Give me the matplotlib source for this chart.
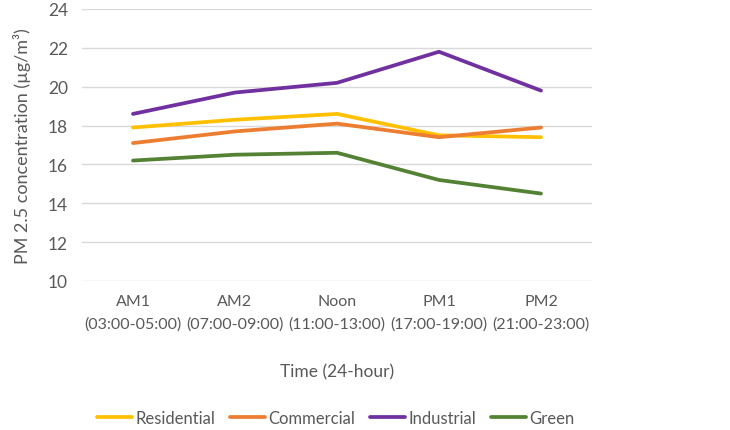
import matplotlib.pyplot as plt

# dados
periodos = ['AM1\n(03:00-05:00)', 'AM2\n(07:00-09:00)', 'Noon\n(11:00-13:00)',
            'PM1\n(17:00-19:00)', 'PM2\n(21:00-23:00)']
residential = [17.9, 18.3, 18.6, 17.5, 17.4]
commercial = [17.1, 17.7, 18.1, 17.4, 17.9]
industrial = [18.6, 19.7, 20.2, 21.8, 19.8]
green = [16.2, 16.5, 16.6, 15.2, 14.5]

plt.rcParams['font.family'] = ['Lato', 'DejaVu Sans']
cinza = '#595959'

fig = plt.figure(figsize=(7.3, 4.31), dpi=100)
ax = fig.add_axes([82 / 730, 1 - 282 / 431, 510 / 730, 272 / 431])

x = range(len(periodos))
ax.plot(x, residential, color='#FFC000', lw=2.7, label='Residential', solid_capstyle='round')
ax.plot(x, commercial, color='#ED7D31', lw=2.7, label='Commercial', solid_capstyle='round')
ax.plot(x, industrial, color='#7030A0', lw=2.7, label='Industrial', solid_capstyle='round')
ax.plot(x, green, color='#548235', lw=2.7, label='Green', solid_capstyle='round')

ax.set_xlim(-0.5, len(periodos) - 0.5)
ax.set_ylim(10, 24)
ax.set_yticks(range(10, 25, 2))
ax.set_xticks(list(x))
ax.set_xticklabels(periodos, fontsize=11.5, color=cinza, linespacing=1.8)
ax.tick_params(axis='y', labelsize=12.5, labelcolor=cinza, length=0, pad=10)
ax.tick_params(axis='x', length=0, pad=9)
ax.grid(axis='y', color='#D9D9D9', lw=1)
ax.set_axisbelow(True)
for s in ax.spines.values():
    s.set_visible(False)

ax.set_ylabel('PM 2.5 concentration (µg/m³)', fontsize=13, color=cinza, labelpad=12)
ax.set_xlabel('Time (24-hour)', fontsize=12.5, color=cinza, labelpad=23)

fig.legend(loc='lower center', ncol=4, frameon=False, fontsize=12, labelcolor=cinza,
           bbox_to_anchor=(0.46, -0.025), handlelength=2.1, handletextpad=0.2, columnspacing=0.9)

fig.savefig('out.png', dpi=100)
